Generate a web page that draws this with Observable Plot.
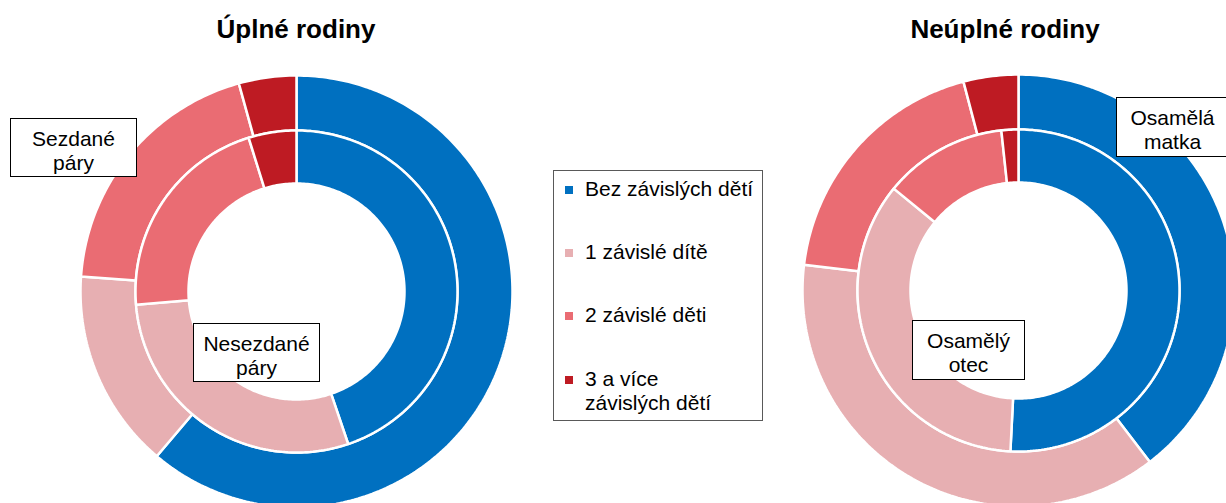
<!DOCTYPE html>
<html><head><meta charset="utf-8">
<script src="https://cdn.jsdelivr.net/npm/d3@7"></script>
<script src="https://cdn.jsdelivr.net/npm/@observablehq/plot@0.6"></script>
<style>
html,body{margin:0;padding:0;background:#fff;overflow:hidden;}
#wrap{position:relative;width:1226px;height:503px;overflow:hidden;font-family:Arial,"Liberation Sans",sans-serif;color:#000;}
#wrap svg{position:absolute;left:0;top:0;}
.title{position:absolute;width:320px;text-align:center;font-weight:bold;font-size:26px;line-height:26px;}
.lbl{position:absolute;box-sizing:border-box;background:#fff;border:1px solid #000;text-align:center;font-size:21px;line-height:24px;padding-top:8px;}
#legend{position:absolute;left:553px;top:170px;width:210px;height:251px;box-sizing:border-box;border:1px solid #595959;background:#fff;}
.item{position:absolute;left:31px;font-size:21px;line-height:24px;white-space:nowrap;}
.sw{position:absolute;left:-20px;top:9px;width:8px;height:8px;}
</style></head><body><div id="wrap"></div>
<script>
// ---- data ----
const categories = ["Bez závislých dětí", "1 závislé dítě", "2 závislé děti", "3 a více závislých dětí"];
const legendLabels = ["Bez závislých dětí", "1 závislé dítě", "2 závislé děti", "3 a více<br>závislých dětí"];
const colors = ["#0070C0", "#E7AFB2", "#EA6C73", "#BE1B23"];
const sezdaneValues = [61.2, 14.9, 19.6, 4.3];     // Úplné rodiny – outer ring
const nesezdaneValues = [44.8, 28.9, 21.5, 4.8];   // Úplné rodiny – inner ring
const matkaValues = [39.6, 37.3, 19.0, 4.1];       // Neúplné rodiny – outer ring
const otecValues = [50.8, 35.1, 12.4, 1.7];        // Neúplné rodiny – inner ring
const panelTitles = ["Úplné rodiny", "Neúplné rodiny"];
const ringLabels = ["Sezdané<br>páry", "Nesezdané<br>páry", "Osamělá<br>matka", "Osamělý<br>otec"];

// ---- layout ----
const W = 1226, H = 503;
const centers = [{cx: 296, cy: 291}, {cx: 1018, cy: 290}];
const outerRing = [161, 216], innerRing = [108, 161];

function ringPolys(values, c, radii, ringId) {
  const arcs = d3.pie().sort(null).value(d => d)(values);
  const pts = [];
  arcs.forEach((a, i) => {
    const id = ringId + "-" + i, cat = categories[i];
    const n = Math.max(2, Math.ceil((a.endAngle - a.startAngle) / (Math.PI / 180)));
    const P = (r, t) => ({x: c.cx + r * Math.sin(t), y: c.cy - r * Math.cos(t), id, cat});
    for (let k = 0; k <= n; k++) pts.push(P(radii[1], a.startAngle + (a.endAngle - a.startAngle) * k / n));
    for (let k = n; k >= 0; k--) pts.push(P(radii[0], a.startAngle + (a.endAngle - a.startAngle) * k / n));
    pts.push(P(radii[1], a.startAngle));
  });
  return pts;
}

const slices = [
  ...ringPolys(sezdaneValues, centers[0], outerRing, "sez"),
  ...ringPolys(nesezdaneValues, centers[0], innerRing, "nes"),
  ...ringPolys(matkaValues, centers[1], outerRing, "mat"),
  ...ringPolys(otecValues, centers[1], innerRing, "ote")
];

const chart = Plot.plot({
  width: W, height: H, margin: 0,
  x: {domain: [0, W], range: [0, W], axis: null},
  y: {domain: [0, H], range: [0, H], axis: null},
  color: {domain: categories, range: colors},
  style: {background: "transparent", overflow: "hidden"},
  marks: [
    Plot.line(slices, {x: "x", y: "y", z: "id", fill: "cat", stroke: "white", strokeWidth: 2.5, curve: "linear", strokeLinejoin: "miter"})
  ]
});
const wrap = document.getElementById("wrap");
wrap.appendChild(chart);

// titles
const titlePos = [{x: 296, top: 16}, {x: 1005, top: 16}];
panelTitles.forEach((t, i) => {
  const d = document.createElement("div");
  d.className = "title";
  d.style.left = (titlePos[i].x - 160) + "px";
  d.style.top = titlePos[i].top + "px";
  d.textContent = t;
  wrap.appendChild(d);
});

// ring label boxes
const boxPos = [
  {l: 10, t: 118, w: 127, h: 59},
  {l: 193, t: 323, w: 127, h: 59},
  {l: 1116, t: 97, w: 113, h: 60},
  {l: 912, t: 320, w: 113, h: 60}
];
ringLabels.forEach((t, i) => {
  const d = document.createElement("div");
  d.className = "lbl";
  const b = boxPos[i];
  Object.assign(d.style, {left: b.l + "px", top: b.t + "px", width: b.w + "px", height: b.h + "px"});
  d.innerHTML = t;
  wrap.appendChild(d);
});

// legend
const lg = document.createElement("div");
lg.id = "legend";
legendLabels.forEach((t, i) => {
  const it = document.createElement("div");
  it.className = "item";
  it.style.top = (6 + i * 63.2) + "px";
  it.innerHTML = `<span class="sw" style="background:${colors[i]}"></span>${t}`;
  lg.appendChild(it);
});
wrap.appendChild(lg);
</script></body></html>
